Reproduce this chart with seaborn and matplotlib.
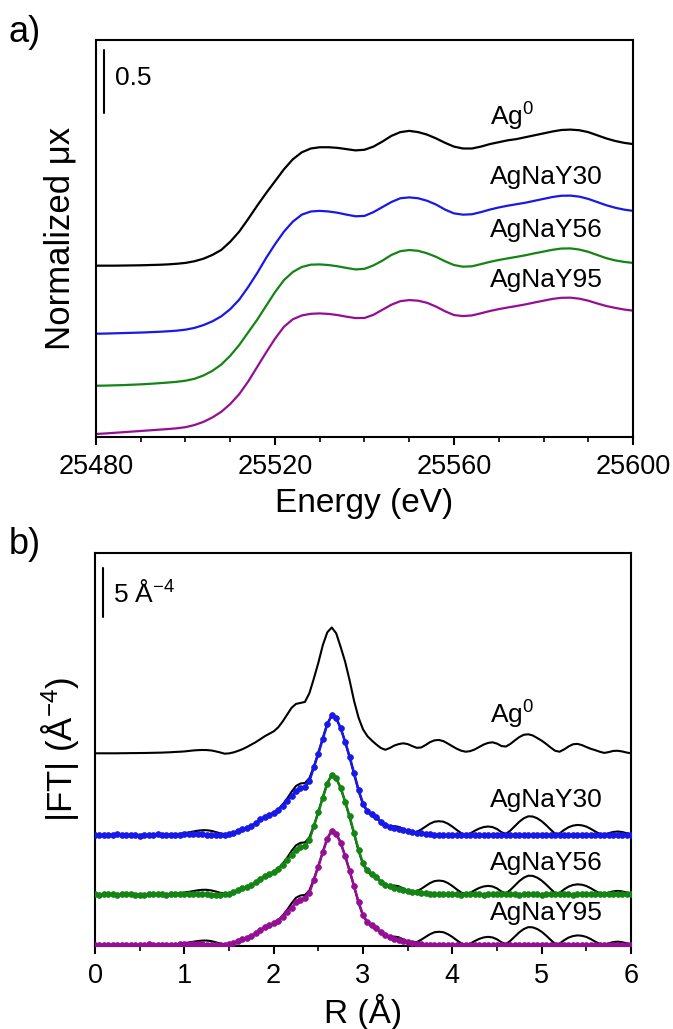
import numpy as np
import pandas as pd
import seaborn as sns
import matplotlib
matplotlib.use('Agg')
import matplotlib.pyplot as plt
from matplotlib.ticker import MultipleLocator

# ---------------- panel a: normalized XANES ----------------
energy = list(range(25480, 25601, 2))

xanes_ag0 = [1.360, 1.360, 1.360, 1.361, 1.362, 1.363, 1.365, 1.367, 1.370, 1.375,
             1.382, 1.395, 1.415, 1.445, 1.485, 1.550, 1.630, 1.730, 1.835, 1.935,
             2.030, 2.125, 2.205, 2.260, 2.290, 2.300, 2.300, 2.295, 2.285, 2.275,
             2.280, 2.305, 2.345, 2.390, 2.420, 2.430, 2.420, 2.400, 2.370, 2.335,
             2.305, 2.290, 2.290, 2.305, 2.325, 2.340, 2.355, 2.365, 2.380, 2.395,
             2.410, 2.425, 2.437, 2.440, 2.435, 2.420, 2.395, 2.370, 2.350, 2.335,
             2.325]
xanes_y30 = [0.820, 0.821, 0.823, 0.825, 0.827, 0.829, 0.832, 0.835, 0.839, 0.844,
             0.852, 0.866, 0.888, 0.918, 0.958, 1.015, 1.090, 1.190, 1.300, 1.420,
             1.530, 1.630, 1.710, 1.765, 1.790, 1.795, 1.790, 1.780, 1.765, 1.752,
             1.755, 1.785, 1.825, 1.865, 1.895, 1.902, 1.895, 1.875, 1.845, 1.805,
             1.775, 1.765, 1.768, 1.785, 1.805, 1.822, 1.836, 1.848, 1.860, 1.875,
             1.890, 1.905, 1.915, 1.916, 1.908, 1.890, 1.865, 1.840, 1.820, 1.805,
             1.795]
xanes_y56 = [0.407, 0.408, 0.410, 0.412, 0.415, 0.418, 0.422, 0.427, 0.432, 0.438,
             0.447, 0.462, 0.488, 0.525, 0.575, 0.645, 0.730, 0.830, 0.930, 1.040,
             1.150, 1.245, 1.310, 1.350, 1.368, 1.370, 1.365, 1.355, 1.342, 1.330,
             1.335, 1.362, 1.400, 1.445, 1.475, 1.484, 1.478, 1.458, 1.430, 1.395,
             1.365, 1.352, 1.355, 1.372, 1.390, 1.405, 1.418, 1.430, 1.443, 1.458,
             1.472, 1.486, 1.496, 1.497, 1.488, 1.470, 1.445, 1.420, 1.402, 1.390,
             1.382]
xanes_y95 = [0.024, 0.028, 0.033, 0.038, 0.043, 0.048, 0.053, 0.058, 0.063, 0.069,
             0.078, 0.095, 0.120, 0.155, 0.200, 0.262, 0.340, 0.440, 0.555, 0.670,
             0.780, 0.875, 0.935, 0.965, 0.978, 0.981, 0.977, 0.968, 0.955, 0.944,
             0.945, 0.970, 1.010, 1.050, 1.078, 1.087, 1.082, 1.065, 1.035, 0.998,
             0.968, 0.960, 0.965, 0.982, 1.000, 1.015, 1.028, 1.040, 1.053, 1.068,
             1.082, 1.096, 1.105, 1.106, 1.098, 1.082, 1.060, 1.040, 1.025, 1.012,
             1.003]

# ---------------- panel b: |FT| of EXAFS (R = 0 ... 6 A, step 0.05) ----------------
r_grid = [round(0.05 * i, 2) for i in range(121)]

ft_ag0 = [19.66, 19.66, 19.66, 19.66, 19.66, 19.66, 19.67, 19.67, 19.68, 19.68,
          19.69, 19.69, 19.70, 19.71, 19.72, 19.73, 19.75, 19.77, 19.80, 19.82,
          19.85, 19.90, 19.95, 19.98, 20.00, 19.99, 19.95, 19.86, 19.75, 19.62,
          19.65, 19.75, 19.90, 20.08, 20.30, 20.55, 20.80, 21.10, 21.40, 21.65,
          21.90, 22.30, 22.90, 23.60, 24.30, 24.70, 24.80, 24.90, 25.80, 27.30,
          28.90, 30.70, 32.00, 32.50, 31.90, 30.50, 29.00, 27.10, 25.00, 23.30,
          22.10, 21.40, 20.95, 20.55, 20.20, 20.02, 20.20, 20.45, 20.60, 20.68,
          20.60, 20.40, 20.22, 20.25, 20.50, 20.80, 20.98, 21.02, 20.90, 20.65,
          20.38, 20.12, 19.92, 19.82, 19.88, 20.05, 20.30, 20.55, 20.72, 20.78,
          20.65, 20.40, 20.35, 20.62, 20.98, 21.32, 21.55, 21.60, 21.48, 21.22,
          20.95, 20.62, 20.25, 19.92, 19.82, 20.05, 20.35, 20.58, 20.62, 20.50,
          20.30, 20.12, 19.98, 19.82, 19.70, 19.78, 19.90, 19.92, 19.85, 19.74,
          19.66]

# experimental curves of the samples, relative to their own baseline
exp_y30 = [0.00, 0.02, -0.03, 0.00, 0.03, 0.05, 0.02, -0.02, 0.00, -0.04,
           -0.08, -0.03, 0.01, 0.04, 0.05, 0.02, 0.00, -0.01, 0.02, 0.03,
           0.05, 0.08, 0.10, 0.08, 0.05, 0.02, 0.00, -0.03, -0.05, -0.02,
           0.05, 0.20, 0.40, 0.58, 0.72, 0.90, 1.20, 1.60, 1.85, 2.05,
           2.25, 2.55, 3.00, 3.45, 3.95, 4.50, 4.80, 4.92, 5.50, 6.90,
           8.30, 9.80, 11.30, 12.20, 11.90, 10.90, 9.50, 8.00, 6.30, 4.60,
           3.20, 2.45, 2.10, 1.85, 1.35, 1.05, 0.85, 0.68, 0.60, 0.48,
           0.38, 0.30, 0.22, 0.15, 0.10, 0.06, 0.03, 0.02, 0.00, -0.02,
           0.01, 0.03, 0.00, -0.03, 0.00, 0.02, 0.00, -0.02, 0.01, 0.00,
           0.02, 0.00, -0.02, 0.00, 0.03, 0.01, 0.00, -0.02, 0.00, 0.02,
           0.00, -0.01, 0.01, 0.03, 0.00, -0.02, 0.00, 0.01, 0.00, -0.02,
           0.00, 0.02, 0.01, 0.00, -0.02, 0.00, 0.02, 0.00, 0.00, 0.01,
           0.00]
exp_y56 = [0.00, -0.02, 0.02, 0.03, 0.00, -0.03, 0.00, 0.03, 0.02, -0.02,
           -0.05, -0.02, 0.02, 0.04, 0.03, 0.00, -0.02, 0.00, 0.03, 0.05,
           0.07, 0.08, 0.08, 0.06, 0.03, 0.00, -0.02, -0.04, -0.03, 0.00,
           0.07, 0.22, 0.42, 0.60, 0.75, 0.92, 1.22, 1.58, 1.85, 2.05,
           2.28, 2.58, 3.02, 3.48, 4.00, 4.52, 4.80, 4.95, 5.55, 6.95,
           8.35, 9.85, 11.30, 12.20, 11.85, 10.85, 9.45, 7.95, 6.25, 4.55,
           3.15, 2.45, 2.10, 1.80, 1.30, 1.00, 0.82, 0.66, 0.58, 0.45,
           0.35, 0.27, 0.20, 0.14, 0.09, 0.05, 0.02, 0.01, 0.00, -0.01,
           0.02, 0.00, -0.02, 0.00, 0.02, 0.01, 0.00, -0.02, 0.00, 0.02,
           0.00, -0.01, 0.01, 0.02, 0.00, -0.02, 0.00, 0.02, 0.01, 0.00,
           -0.02, 0.00, 0.02, 0.00, 0.00, 0.01, 0.00, -0.02, 0.00, 0.02,
           0.01, 0.00, -0.01, 0.00, 0.02, 0.00, -0.01, 0.00, 0.01, 0.00,
           0.00]
exp_y95 = [0.00, 0.02, 0.00, -0.02, 0.00, 0.03, 0.02, 0.00, -0.02, -0.03,
           0.00, 0.03, 0.05, 0.04, 0.02, 0.00, -0.02, 0.00, 0.02, 0.05,
           0.08, 0.10, 0.12, 0.10, 0.06, 0.03, 0.00, -0.02, -0.03, 0.00,
           0.08, 0.22, 0.42, 0.60, 0.75, 0.92, 1.20, 1.55, 1.80, 2.00,
           2.20, 2.48, 2.90, 3.35, 3.82, 4.35, 4.62, 4.75, 5.32, 6.65,
           8.00, 9.45, 10.85, 11.65, 11.35, 10.40, 9.05, 7.60, 6.00, 4.40,
           3.05, 2.35, 2.00, 1.75, 1.30, 1.00, 0.80, 0.62, 0.50, 0.38,
           0.28, 0.18, 0.10, 0.05, 0.00, -0.03, -0.02, 0.00, 0.02, 0.00,
           -0.02, 0.00, 0.02, 0.01, 0.00, -0.02, 0.00, 0.02, 0.00, -0.01,
           0.01, 0.02, 0.00, -0.02, 0.00, 0.01, 0.00, -0.02, 0.00, 0.02,
           0.01, 0.00, -0.02, 0.00, 0.02, 0.00, -0.01, 0.00, 0.01, 0.00,
           -0.02, 0.00, 0.02, 0.00, 0.00, 0.01, 0.00, -0.01, 0.00, 0.01,
           0.00]

# fitted curves (black), relative to the same baselines
fit_y30 = [0.00, 0.00, 0.00, 0.00, 0.00, 0.00, 0.00, 0.00, 0.00, 0.00,
           0.00, 0.00, 0.00, 0.00, 0.00, 0.02, 0.03, 0.05, 0.08, 0.12,
           0.18, 0.26, 0.35, 0.43, 0.48, 0.48, 0.42, 0.30, 0.17, 0.08,
           0.10, 0.22, 0.40, 0.58, 0.75, 0.95, 1.20, 1.55, 1.85, 2.05,
           2.25, 2.60, 3.10, 3.70, 4.40, 5.00, 5.25, 5.30, 5.80, 7.00,
           8.40, 9.90, 11.35, 12.20, 11.90, 10.90, 9.50, 7.90, 6.20, 4.50,
           3.10, 2.35, 1.95, 1.70, 1.30, 0.95, 0.85, 0.90, 0.82, 0.60,
           0.38, 0.25, 0.30, 0.55, 0.85, 1.15, 1.35, 1.40, 1.35, 1.15,
           0.85, 0.50, 0.18, 0.02, 0.15, 0.42, 0.65, 0.80, 0.86, 0.80,
           0.60, 0.28, 0.10, 0.45, 0.90, 1.35, 1.70, 1.90, 1.88, 1.70,
           1.40, 1.00, 0.55, 0.12, 0.15, 0.50, 0.78, 0.95, 1.02, 0.98,
           0.85, 0.62, 0.35, 0.10, 0.05, 0.18, 0.30, 0.35, 0.30, 0.18,
           0.10]
fit_y56 = [0.00, 0.00, 0.00, 0.00, 0.00, 0.00, 0.00, 0.00, 0.00, 0.00,
           0.00, 0.00, 0.00, 0.00, 0.00, 0.02, 0.03, 0.05, 0.08, 0.12,
           0.18, 0.25, 0.33, 0.41, 0.46, 0.46, 0.40, 0.29, 0.16, 0.08,
           0.10, 0.22, 0.42, 0.60, 0.76, 0.95, 1.22, 1.55, 1.85, 2.05,
           2.28, 2.62, 3.12, 3.72, 4.42, 5.00, 5.25, 5.30, 5.82, 7.02,
           8.42, 9.92, 11.35, 12.20, 11.85, 10.85, 9.45, 7.85, 6.15, 4.45,
           3.05, 2.32, 1.92, 1.68, 1.28, 0.93, 0.85, 0.90, 0.82, 0.60,
           0.38, 0.25, 0.30, 0.55, 0.85, 1.15, 1.35, 1.40, 1.35, 1.15,
           0.85, 0.50, 0.18, 0.02, 0.15, 0.42, 0.65, 0.80, 0.86, 0.80,
           0.60, 0.28, 0.10, 0.45, 0.90, 1.35, 1.70, 1.90, 1.88, 1.70,
           1.40, 1.00, 0.55, 0.12, 0.15, 0.50, 0.78, 0.95, 1.02, 0.98,
           0.85, 0.62, 0.35, 0.10, 0.05, 0.18, 0.30, 0.35, 0.30, 0.18,
           0.10]
fit_y95 = [0.00, 0.00, 0.00, 0.00, 0.00, 0.00, 0.00, 0.00, 0.00, 0.00,
           0.00, 0.00, 0.00, 0.00, 0.00, 0.02, 0.03, 0.05, 0.08, 0.12,
           0.18, 0.25, 0.33, 0.40, 0.45, 0.45, 0.40, 0.28, 0.16, 0.08,
           0.10, 0.21, 0.40, 0.57, 0.72, 0.92, 1.18, 1.50, 1.78, 1.98,
           2.18, 2.52, 3.00, 3.58, 4.25, 4.82, 5.05, 5.10, 5.58, 6.75,
           8.08, 9.52, 10.90, 11.65, 11.40, 10.45, 9.10, 7.55, 5.95, 4.30,
           2.98, 2.25, 1.88, 1.65, 1.25, 0.92, 0.82, 0.86, 0.78, 0.58,
           0.36, 0.24, 0.29, 0.53, 0.82, 1.10, 1.30, 1.35, 1.30, 1.10,
           0.82, 0.48, 0.17, 0.02, 0.14, 0.40, 0.62, 0.77, 0.83, 0.77,
           0.58, 0.27, 0.10, 0.43, 0.86, 1.30, 1.63, 1.82, 1.80, 1.63,
           1.35, 0.96, 0.53, 0.12, 0.14, 0.48, 0.75, 0.91, 0.98, 0.94,
           0.82, 0.60, 0.34, 0.10, 0.05, 0.17, 0.29, 0.34, 0.29, 0.17,
           0.10]

# vertical stacking offsets of the sample curves (|FT| units)
offset_y30 = 11.33
offset_y56 = 5.27
offset_y95 = 0.10

labels = ['Ag$^{0}$', 'AgNaY30', 'AgNaY56', 'AgNaY95']
colors = ['#000000', '#1818E8', '#148414', '#940F94']

# label anchors (data units)
label_a_x = 25568
label_a_y = [2.54, 2.06, 1.64, 1.25]
label_b_x = 4.42
label_b_y = [23.6, 14.9, 8.5, 3.4]

# ---------------- style ----------------
sns.set_style('ticks')
plt.rcParams.update({
    'font.family': ['Liberation Sans', 'DejaVu Sans'],
    'mathtext.fontset': 'custom',
    'mathtext.rm': 'Liberation Sans',
    'mathtext.it': 'Liberation Sans:italic',
    'mathtext.bf': 'Liberation Sans:bold',
    'axes.linewidth': 1.5,
    'axes.edgecolor': 'black',
    'text.color': 'black',
    'axes.labelcolor': 'black',
    'xtick.color': 'black',
    'xtick.labelcolor': 'black',
})

fig = plt.figure(figsize=(6.73, 10.29), dpi=100)
ax_a = fig.add_axes([0.1426, 0.5753, 0.7980, 0.3858])
ax_b = fig.add_axes([0.1412, 0.0807, 0.7964, 0.3819])

# ---------------- panel a ----------------
for vals, c in zip([xanes_ag0, xanes_y30, xanes_y56, xanes_y95], colors):
    sns.lineplot(x=energy, y=vals, ax=ax_a, color=c, lw=1.6, legend=False)

for lab, y in zip(labels, label_a_y):
    ax_a.text(label_a_x, y, lab, fontsize=19, ha='left', va='center')

# scale bar 0.5
ax_a.plot([25481.8, 25481.8], [2.571, 2.571 + 0.5], color='k', lw=1.5)
ax_a.text(25484.2, 2.85, '0.5', fontsize=19, ha='left', va='center')

ax_a.set_xlim(25480, 25600)
ax_a.set_ylim(0, 3.151)
ax_a.set_yticks([])
ax_a.xaxis.set_major_locator(MultipleLocator(40))
ax_a.xaxis.set_minor_locator(MultipleLocator(10))
ax_a.tick_params(axis='x', which='major', length=6, width=1.5, direction='out', labelsize=19.5, pad=6)
ax_a.tick_params(axis='x', which='minor', length=3.5, width=1.2, direction='out')
ax_a.set_xlabel('Energy (eV)', fontsize=24, labelpad=6)
ax_a.set_ylabel('Normalized μx', fontsize=25)
ax_a.yaxis.set_label_coords(-0.036, 0.5)

# ---------------- panel b ----------------
sns.lineplot(x=r_grid, y=ft_ag0, ax=ax_b, color='k', lw=1.5, legend=False)
for exp, fit, off, c in zip([exp_y30, exp_y56, exp_y95], [fit_y30, fit_y56, fit_y95],
                            [offset_y30, offset_y56, offset_y95], colors[1:]):
    sns.lineplot(x=r_grid, y=np.array(fit) + off, ax=ax_b, color='k', lw=1.5,
                 legend=False, zorder=2)
    sns.lineplot(x=r_grid, y=np.array(exp) + off, ax=ax_b, color=c, lw=1.8, legend=False,
                 zorder=3, marker='o', markersize=4.2, markeredgewidth=0.5, markeredgecolor=c)

for lab, y in zip(labels, label_b_y):
    ax_b.text(label_b_x, y, lab, fontsize=19, ha='left', va='center')

# scale bar 5 A^-4
ax_b.plot([0.09, 0.09], [33.57, 33.57 + 5], color='k', lw=1.5)
ax_b.text(0.2, 36.0, '5 Å$^{-4}$', fontsize=19, ha='left', va='center')

ax_b.set_xlim(0, 6)
ax_b.set_ylim(0, 40.1)
ax_b.set_yticks([])
ax_b.xaxis.set_major_locator(MultipleLocator(1))
ax_b.xaxis.set_minor_locator(MultipleLocator(0.5))
ax_b.tick_params(axis='x', which='major', length=6, width=1.5, direction='out', labelsize=19.5, pad=6)
ax_b.tick_params(axis='x', which='minor', length=3.5, width=1.2, direction='out')
ax_b.set_xlabel('R (Å)', fontsize=24, labelpad=4)
ax_b.set_ylabel('|FT| (Å$^{-4}$)', fontsize=25)
ax_b.yaxis.set_label_coords(-0.026, 0.5)

fig.text(0.037, 1 - 32 / 1029, 'a)', fontsize=26, ha='center', va='center')
fig.text(0.037, 1 - 545 / 1029, 'b)', fontsize=26, ha='center', va='center')

fig.savefig('out.png', dpi=100, facecolor='white')
